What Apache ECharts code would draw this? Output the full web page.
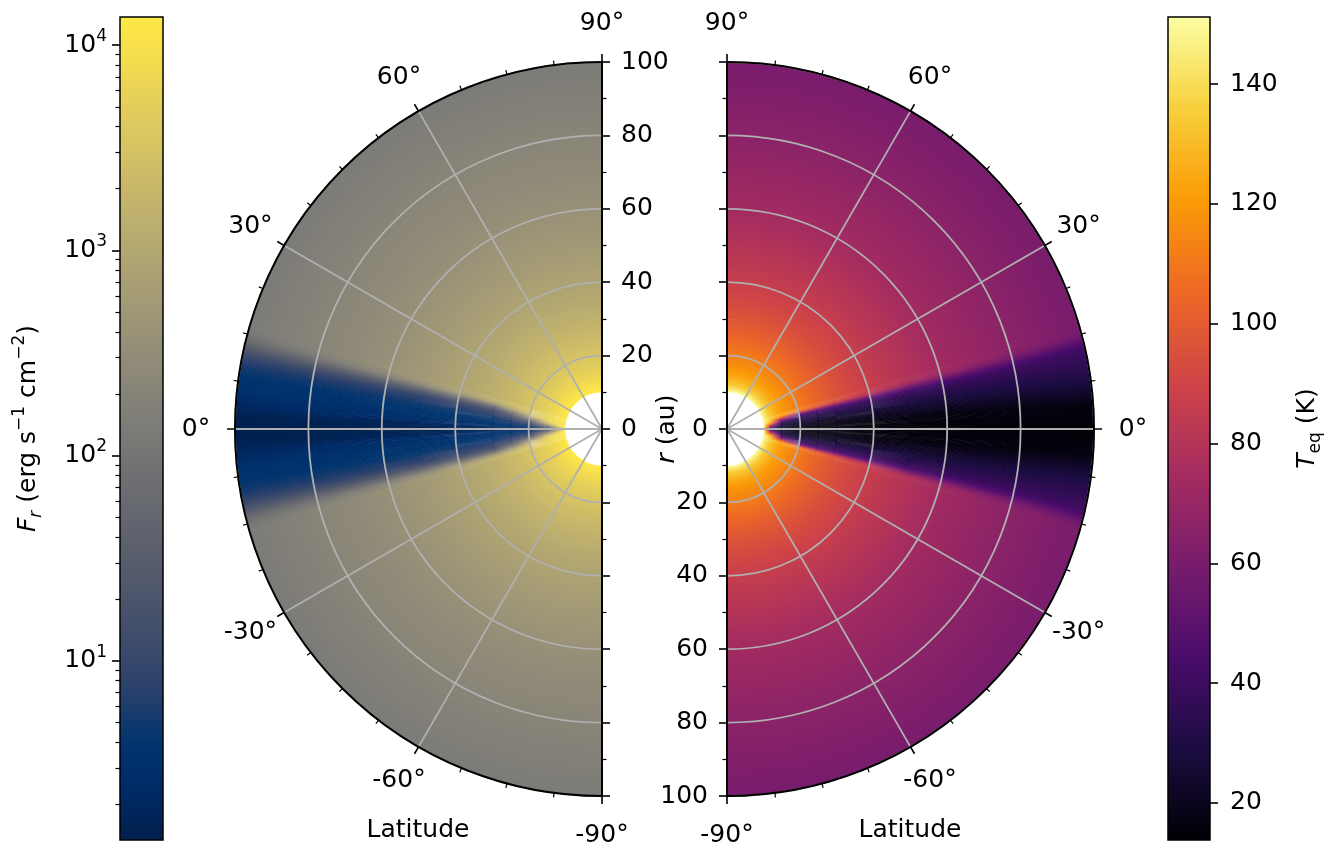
<!DOCTYPE html>
<html>
<head>
<meta charset="utf-8">
<script src="https://cdn.jsdelivr.net/npm/echarts@6/dist/echarts.min.js"></script>
<style>
  html, body { margin: 0; padding: 0; background: #ffffff; }
  #chart { width: 1327px; height: 844px; }
</style>
</head>
<body>
<div id="chart"></div>
<script>
// ---------------------------------------------------------------------------
// Data
// ---------------------------------------------------------------------------
// Radial sample nodes (au)
const radiusAu = [10, 12, 15, 20, 25, 30, 40, 50, 60, 80, 100];
// Latitude nodes (deg) of the northern half; the southern half mirrors them
const latitudeDeg = [0, 2, 4, 6, 8, 10, 11, 12, 13, 14, 15, 16, 90];

// Radiation flux F_r (erg s^-1 cm^-2) away from the midplane shadow
const fluxOpen = [13600, 9400, 6000, 3400, 2200, 1500, 850, 545, 378, 213, 136];
// One row per latitude node, one column per radius node
const fluxRows = [
  [13600,  300,   15,    3,  2.2,  1.8,  1.6,  1.5,  1.4,  1.4,  1.4],
  [13600, 1500,   40,  4.5,  3.2,  2.6,  2.3,  2.0,  1.8,  1.6,  1.5],
  [13600, 6000,  300,    9,    5,    4,  3.6,  3.4,  3.2,  2.6,  2.0],
  [13600, 9000, 2000,   30,    8,    5,  4.2,  3.8,  3.6,  3.5,  3.4],
  [13600, 9400, 4500,  200,   20,    8,    6,    5,  4.5,  4.0,  3.8],
  [13600, 9400, 5800, 1000,   80,   16,   10,    8,    7,    6,  5.5],
  [13600, 9400, 6000, 1800,  200,   35,   18,   13,   11,    9,    8],
  [13600, 9400, 6000, 2600,  500,  100,   45,   32,   25,   18,   14],
  [13600, 9400, 6000, 3100, 1100,  350,  150,  100,   70,   45,   30],
  [13600, 9400, 6000, 3300, 1700,  900,  450,  300,  200,  110,   65],
  [13600, 9400, 6000, 3400, 2100, 1350,  750,  470,  320,  180,  110],
  fluxOpen,
  fluxOpen
];

// Equilibrium temperature T_eq (K) away from the midplane shadow
const tempOpen = [151, 134, 122, 112, 104, 97, 87, 80, 74, 66, 60];
const tempRows = [
  [151,  40,  20,  17,  16,   16, 15.5,   15,   15,   15, 14.5],
  [151,  50,  22,  18,  17, 16.5,   16,   16, 15.5, 15.5,   15],
  [151,  70,  26,  20,  19, 18.5,   18, 17.5,   17,   17,   17],
  [151, 100,  33,  25,  24,   23,   22,   22,   22,   23,   24],
  [151, 122,  45,  32,  30,   29,   28,   28,   28,   29,   30],
  [151, 132,  65,  40,  37,   36,   35,   34,   34,   34,   35],
  [151, 134,  85,  45,  42,   41,   39,   38,   37,   37,   37],
  [151, 134, 102,  55,  50,   48,   45,   43,   41,   40,   39],
  [151, 134, 116,  84,  75,   70,   62,   56,   52,   46,   42],
  [151, 134, 121, 106,  97,   90,   80,   72,   66,   58,   50],
  [151, 134, 122, 112, 103,   96,   86,   79,   73,   65,   58],
  tempOpen,
  tempOpen
];

// Colour-bar ranges and ticks
const fluxRange = [1.34, 13700];
const fluxTicks = [10, 100, 1000, 10000];
const fluxMinorTicks = [2, 3, 4, 5, 6, 7, 8, 9, 20, 30, 40, 50, 60, 70, 80, 90,
  200, 300, 400, 500, 600, 700, 800, 900, 2000, 3000, 4000, 5000, 6000, 7000, 8000, 9000];
const tempRange = [13.8, 151.2];
const tempTicks = [20, 40, 60, 80, 100, 120, 140];

// Polar axes
const radiusMax = 100;
const radiusStep = 20;
const latitudeLabels = [-90, -60, -30, 0, 30, 60, 90];

// ---------------------------------------------------------------------------
// Colour maps
// ---------------------------------------------------------------------------
const cividis = [[0,32,76],[0,42,102],[0,52,110],[39,63,108],[60,74,107],[76,85,107],
  [91,95,109],[104,106,112],[117,117,117],[131,129,120],[146,140,120],[161,152,118],
  [176,165,114],[192,177,109],[209,191,102],[225,204,92],[243,219,79],[255,233,69]];
const inferno = ['#000004','#1b0c41','#4a0c6b','#781c6d','#a52c60','#cf4446',
  '#ed6925','#fb9b06','#f7d13d','#fcffa4'].map(h => [
  parseInt(h.slice(1, 3), 16), parseInt(h.slice(3, 5), 16), parseInt(h.slice(5, 7), 16)]);

function cmap(pal, t) {
  t = Math.max(0, Math.min(1, t));
  const pos = t * (pal.length - 1);
  const i = Math.min(pal.length - 2, Math.floor(pos));
  const f = pos - i;
  const a = pal[i], b = pal[i + 1];
  return 'rgb(' + Math.round(a[0] + (b[0] - a[0]) * f) + ',' +
    Math.round(a[1] + (b[1] - a[1]) * f) + ',' +
    Math.round(a[2] + (b[2] - a[2]) * f) + ')';
}

const LMIN = Math.log10(fluxRange[0]), LMAX = Math.log10(fluxRange[1]);
const fluxUnit = v => (Math.log10(v) - LMIN) / (LMAX - LMIN);
const tempUnit = v => (v - tempRange[0]) / (tempRange[1] - tempRange[0]);

// Full latitude list (-90 .. 90) and mirrored rows
const latNodes = latitudeDeg.slice(1).reverse().map(v => -v).concat(latitudeDeg);
const mirror = rows => rows.slice(1).reverse().concat(rows);
const fluxTable = mirror(fluxRows);
const tempTable = mirror(tempRows);

function fieldData(table) {
  const out = [];
  latNodes.forEach((lat, j) => {
    radiusAu.forEach((r, i) => out.push([r, lat, table[j][i]]));
  });
  return out;
}

// Each node paints the patch up to the next radius / latitude node,
// shaded smoothly between the four corner values.
function fieldRenderer(table, unit, pal) {
  const nR = radiusAu.length, nL = latNodes.length;
  return function (params, api) {
    const i = params.dataIndex % nR;
    const j = Math.floor(params.dataIndex / nR);
    if (i >= nR - 1 || j >= nL - 1) return null;
    const cs = params.coordSys, cx = cs.cx, cy = cs.cy;
    const ra = radiusAu[i], rb = radiusAu[i + 1];
    const la = latNodes[j], lb = latNodes[j + 1];
    const t00 = unit(table[j][i]), t01 = unit(table[j][i + 1]);
    const t10 = unit(table[j + 1][i]), t11 = unit(table[j + 1][i + 1]);
    const flat = (t00 === t10 && t01 === t11);
    const steps = flat ? 1 : Math.max(1, Math.ceil((lb - la) / 0.2));
    const children = [];
    for (let k = 0; k < steps; k++) {
      const l0 = la + (lb - la) * k / steps;
      const l1 = la + (lb - la) * (k + 1) / steps;
      const f = (k + 0.5) / steps;
      const tin = t00 + (t10 - t00) * f;
      const tout = t01 + (t11 - t01) * f;
      const pIn = api.coord([ra, l0]);
      const pOut = api.coord([rb, l0]);
      const pEnd = api.coord([rb, l1]);
      const rIn = Math.hypot(pIn[0] - cx, pIn[1] - cy);
      const rOut = Math.hypot(pOut[0] - cx, pOut[1] - cy);
      const a0 = Math.atan2(pOut[1] - cy, pOut[0] - cx);
      let d = Math.atan2(pEnd[1] - cy, pEnd[0] - cx) - a0;
      while (d > Math.PI) d -= 2 * Math.PI;
      while (d < -Math.PI) d += 2 * Math.PI;
      const start = d >= 0 ? a0 : a0 + d;
      const end = d >= 0 ? a0 + d : a0;
      const stops = [];
      for (let s = 0; s <= 4; s++) {
        const rr = ra + (rb - ra) * s / 4;
        const w = Math.log(rr / ra) / Math.log(rb / ra);
        const px = rIn + (rOut - rIn) * s / 4;
        stops.push({ offset: px / rOut, color: cmap(pal, tin + (tout - tin) * w) });
      }
      const fill = new echarts.graphic.RadialGradient(cx, cy, rOut, stops, true);
      const pad = (i === 0) ? 0 : 0.6;
      children.push({
        type: 'sector',
        shape: { cx: cx, cy: cy, r0: rIn - pad, r: rOut, startAngle: start - 0.0015, endAngle: end + 0.0015, clockwise: true },
        style: { fill: fill }
      });
    }
    return { type: 'group', children: children };
  };
}

// Latitude labels, centred a fixed distance outside the rim
function latitudeLabelRenderer(params, api) {
  const cs = params.coordSys;
  const p = api.coord([api.value(0), api.value(1)]);
  const dx = p[0] - cs.cx, dy = p[1] - cs.cy, len = Math.hypot(dx, dy);
  return {
    type: 'text',
    x: p[0] + dx / len * 39,
    y: p[1] + dy / len * 39,
    style: {
      text: api.value(1) + '°',
      fill: '#000',
      font: '25px "DejaVu Sans"',
      align: 'center',
      verticalAlign: 'middle'
    }
  };
}

// Colour bar rectangle filled with the colour map
function colorbarRenderer(pal) {
  return function (params, api) {
    const p0 = api.coord([0, api.value(1)]);
    const p1 = api.coord([1, api.value(2)]);
    const stops = pal.map((c, k) => ({ offset: k / (pal.length - 1), color: 'rgb(' + c.join(',') + ')' }));
    return {
      type: 'rect',
      shape: { x: p0[0], y: p1[1], width: p1[0] - p0[0], height: p0[1] - p1[1] },
      style: {
        fill: new echarts.graphic.LinearGradient(0, 1, 0, 0, stops),
        stroke: '#000', lineWidth: 1.5
      }
    };
  };
}

// ---------------------------------------------------------------------------
// Option
// ---------------------------------------------------------------------------
const FONT = 'DejaVu Sans';
const GRID_GRAY = '#b0b0b0';
const LEFT_C = [602, 429], RIGHT_C = [727, 429], R_PX = 367;

function angleAxisOf(polarIndex, startAngle, endAngle, clockwise) {
  return {
    polarIndex, type: 'value', min: -90, max: 90, interval: 30,
    startAngle, endAngle, clockwise, z: 10,
    axisLine: { show: true, lineStyle: { color: '#000', width: 2 } },
    axisTick: { show: true, length: 8, lineStyle: { color: '#000', width: 1.6 } },
    minorTick: { show: true, splitNumber: 4, length: 4.5, lineStyle: { color: '#000', width: 1.2 } },
    axisLabel: { show: false },
    splitLine: { show: true, lineStyle: { color: GRID_GRAY, width: 1.8 } }
  };
}
function ringRadiusAxis(polarIndex) {
  return {
    polarIndex, type: 'value', min: 0, max: radiusMax, interval: radiusStep, z: 9,
    axisLine: { show: false }, axisTick: { show: false }, axisLabel: { show: false },
    splitLine: { show: true, lineStyle: { color: GRID_GRAY, width: 1.8 } }
  };
}
// Straight edge of each half disc: radius runs 0..100 both up and down from the centre
function edgeAxis(gridIndex, position, formatter) {
  return {
    gridIndex, type: 'value', position, min: -radiusMax, max: radiusMax, interval: radiusStep, z: 12,
    axisLine: { show: true, onZero: false, lineStyle: { color: '#000', width: 2 } },
    axisTick: { show: true, inside: true, length: 8, lineStyle: { color: '#000', width: 1.6 } },
    minorTick: { show: true, splitNumber: 2, length: 4.5, lineStyle: { color: '#000', width: 1.2 } },
    axisLabel: { show: true, inside: true, margin: 19, fontSize: 25, fontFamily: FONT, color: '#000', formatter },
    splitLine: { show: false }
  };
}

const supRich = {
  b: { fontSize: 25, fontFamily: FONT, color: '#000', lineHeight: 34 },
  s: { fontSize: 17, fontFamily: FONT, color: '#000', verticalAlign: 'top', lineHeight: 17 }
};
const textFont = '25px "DejaVu Sans"';

const option = {
  animation: false,
  backgroundColor: '#ffffff',
  textStyle: { fontFamily: FONT, color: '#000' },
  polar: [
    { center: LEFT_C, radius: [0, R_PX] },
    { center: RIGHT_C, radius: [0, R_PX] }
  ],
  angleAxis: [
    angleAxisOf(0, 270, 90, true),
    angleAxisOf(1, -90, 90, false)
  ],
  radiusAxis: [
    ringRadiusAxis(0),
    ringRadiusAxis(1)
  ],
  grid: [
    { left: 120, top: 17, width: 43, height: 823 },
    { left: 1168, top: 17, width: 42, height: 823 },
    { left: LEFT_C[0], top: LEFT_C[1] - R_PX, width: 10, height: 2 * R_PX },
    { left: RIGHT_C[0] - 10, top: RIGHT_C[1] - R_PX, width: 10, height: 2 * R_PX }
  ],
  xAxis: [
    { gridIndex: 0, type: 'value', min: 0, max: 1, show: false },
    { gridIndex: 1, type: 'value', min: 0, max: 1, show: false },
    { gridIndex: 2, type: 'value', min: 0, max: 1, show: false },
    { gridIndex: 3, type: 'value', min: 0, max: 1, show: false }
  ],
  yAxis: [
    {
      gridIndex: 0, type: 'value', position: 'left',
      min: LMIN, max: LMAX,
      axisLine: { show: false, onZero: false },
      axisTick: { show: true, length: 8, customValues: fluxTicks.map(Math.log10), lineStyle: { color: '#000', width: 1.6 } },
      axisLabel: {
        show: true, margin: 13, customValues: fluxTicks.map(Math.log10),
        formatter: v => '{b|10}{s|' + Math.round(v) + '}', rich: supRich
      },
      splitLine: { show: false },
      name: '{i|F}{isub|r}{n| (erg s}{sup|−1}{n| cm}{sup|−2}{n|)}',
      nameLocation: 'middle', nameRotate: 90, nameGap: 75,
      nameTextStyle: {
        fontSize: 25, color: '#000',
        rich: {
          i: { fontSize: 25, fontStyle: 'italic', fontFamily: FONT, lineHeight: 34 },
          isub: { fontSize: 17, fontStyle: 'italic', fontFamily: FONT, verticalAlign: 'bottom', lineHeight: 20 },
          n: { fontSize: 25, fontFamily: FONT, lineHeight: 34 },
          sup: { fontSize: 17, fontFamily: FONT, verticalAlign: 'top', lineHeight: 17 }
        }
      }
    },
    {
      gridIndex: 0, type: 'value', position: 'left',
      min: LMIN, max: LMAX,
      axisLine: { show: false, onZero: false },
      axisTick: { show: true, length: 4.5, customValues: fluxMinorTicks.map(Math.log10), lineStyle: { color: '#000', width: 1.2 } },
      axisLabel: { show: false },
      splitLine: { show: false }
    },
    {
      gridIndex: 1, type: 'value', position: 'right',
      min: tempRange[0], max: tempRange[1],
      axisLine: { show: false, onZero: false },
      axisTick: { show: true, length: 8, customValues: tempTicks, lineStyle: { color: '#000', width: 1.6 } },
      axisLabel: { show: true, margin: 20, fontSize: 25, fontFamily: FONT, color: '#000', customValues: tempTicks },
      splitLine: { show: false },
      name: '{i|T}{sub|eq}{n| (K)}',
      nameLocation: 'middle', nameRotate: 90, nameGap: 80,
      nameTextStyle: {
        fontSize: 25, color: '#000',
        rich: {
          i: { fontSize: 25, fontStyle: 'italic', fontFamily: FONT, lineHeight: 34 },
          sub: { fontSize: 17, fontFamily: FONT, verticalAlign: 'bottom', lineHeight: 20 },
          n: { fontSize: 25, fontFamily: FONT, lineHeight: 34 }
        }
      }
    },
    // left disc: labels on the northern half of the edge
    edgeAxis(2, 'left', v => (v >= 0 ? String(v) : '')),
    // right disc: labels on the southern half of the edge
    edgeAxis(3, 'right', v => (v <= 0 ? String(Math.abs(v)) : ''))
  ],
  graphic: [
    { type: 'text', x: 418, y: 830, style: { text: 'Latitude', font: textFont, fill: '#000', align: 'center', verticalAlign: 'middle' } },
    { type: 'text', x: 910, y: 830, style: { text: 'Latitude', font: textFont, fill: '#000', align: 'center', verticalAlign: 'middle' } },
    {
      type: 'text', x: 667, y: 429, rotation: Math.PI / 2,
      style: {
        text: '{i|r} (au)', font: textFont, fill: '#000', align: 'center', verticalAlign: 'middle',
        rich: { i: { fontStyle: 'italic', fontSize: 25, fontFamily: FONT } }
      }
    }
  ],
  series: [
    {
      type: 'custom', name: 'flux', coordinateSystem: 'polar', polarIndex: 0, z: 2,
      renderItem: fieldRenderer(fluxTable, fluxUnit, cividis),
      data: fieldData(fluxTable), silent: true
    },
    {
      type: 'custom', name: 'temperature', coordinateSystem: 'polar', polarIndex: 1, z: 2,
      renderItem: fieldRenderer(tempTable, tempUnit, inferno),
      data: fieldData(tempTable), silent: true
    },
    {
      type: 'custom', coordinateSystem: 'polar', polarIndex: 0, z: 20, silent: true,
      renderItem: latitudeLabelRenderer,
      data: latitudeLabels.map(v => [radiusMax, v])
    },
    {
      type: 'custom', coordinateSystem: 'polar', polarIndex: 1, z: 20, silent: true,
      renderItem: latitudeLabelRenderer,
      data: latitudeLabels.map(v => [radiusMax, v])
    },
    {
      type: 'custom', coordinateSystem: 'cartesian2d', xAxisIndex: 0, yAxisIndex: 0, z: 2, silent: true,
      renderItem: colorbarRenderer(cividis),
      data: [[0, LMIN, LMAX]]
    },
    {
      type: 'custom', coordinateSystem: 'cartesian2d', xAxisIndex: 1, yAxisIndex: 2, z: 2, silent: true,
      renderItem: colorbarRenderer(inferno),
      data: [[0, tempRange[0], tempRange[1]]]
    }
  ]
};

const chart = echarts.init(document.getElementById('chart'));
chart.setOption(option);
</script>
</body>
</html>
